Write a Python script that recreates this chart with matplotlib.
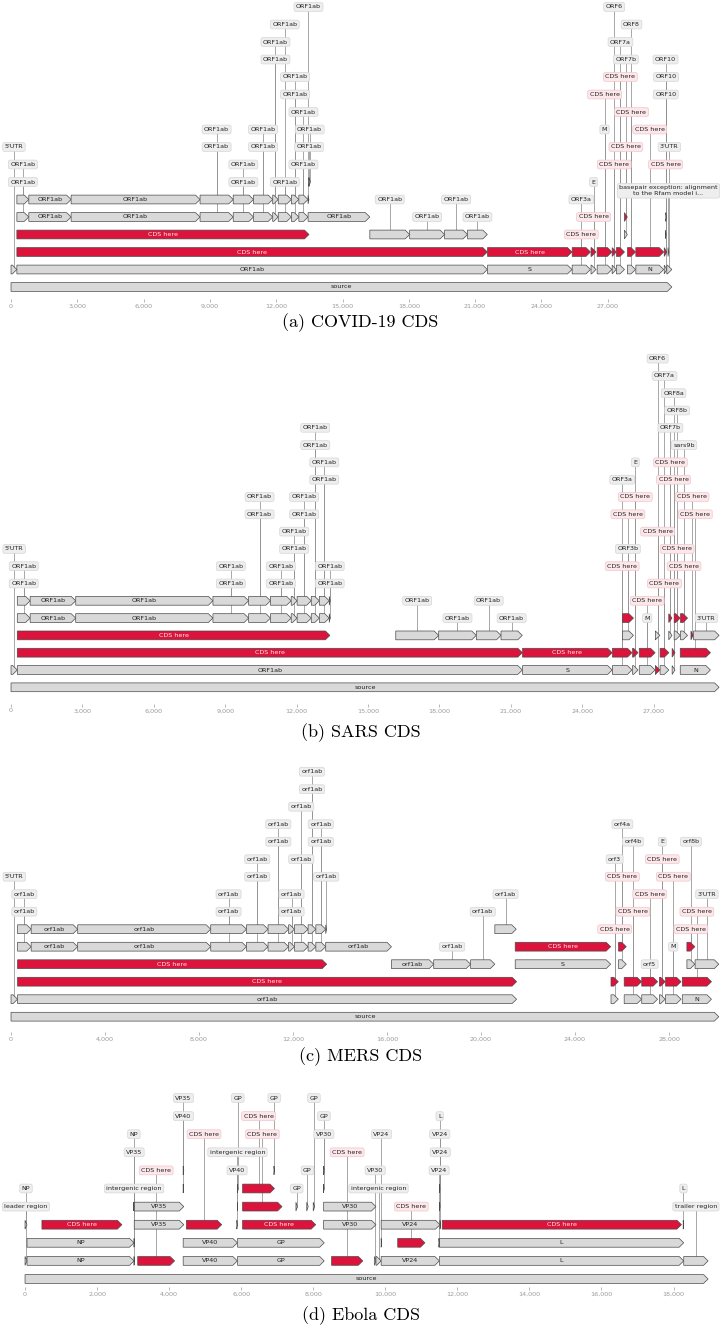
import matplotlib
matplotlib.use("Agg")
import matplotlib.pyplot as plt
from matplotlib.patches import Polygon
from matplotlib.ticker import FuncFormatter

# Each feature: (start, end, track, label, label_track); label_track None = label drawn inside

# ---------------- (a) COVID-19 ----------------
covid_source = [(1, 29903, 0, "source", None)]
covid_genes = [
    (1, 265, 1, "5'UTR", 8),
    (266, 21555, 1, "ORF1ab", None),
    (21563, 25384, 1, "S", None),
    (25393, 26220, 1, "ORF3a", 5),
    (26245, 26472, 1, "E", 6),
    (26523, 27191, 1, "M", 9),
    (27202, 27387, 1, "ORF6", 16),
    (27394, 27759, 1, "ORF7a", 14),
    (27894, 28259, 1, "ORF8", 15),
    (28274, 29533, 1, "N", None),
    (29558, 29674, 1, "ORF10", 13),
    (29675, 29903, 1, "3'UTR", 8),
    (27756, 27887, 3, "ORF7b", 13),
]
covid_cds = [
    (266, 21555, 2, "CDS here", None),
    (21563, 25384, 2, "CDS here", None),
    (25393, 26220, 2, "CDS here", 3),
    (26245, 26472, 2, "CDS here", 4),
    (26523, 27191, 2, "CDS here", 11),
    (27202, 27387, 2, "CDS here", 7),
    (27394, 27759, 2, "CDS here", 12),
    (27894, 28259, 2, "CDS here", 10),
    (28274, 29533, 2, "CDS here", 9),
    (29558, 29674, 2, "CDS here", 7),
    (266, 13483, 3, "CDS here", None),
    (27756, 27887, 4, "CDS here", 8),
]
covid_peptides = [
    (266, 805, 4, "ORF1ab", 7), (806, 2719, 4, "ORF1ab", None),
    (2720, 8554, 4, "ORF1ab", None), (8555, 10054, 4, "ORF1ab", 9),
    (10055, 10972, 4, "ORF1ab", 7), (10973, 11842, 4, "ORF1ab", 9),
    (11843, 12091, 4, "ORF1ab", 14), (12092, 12685, 4, "ORF1ab", 15),
    (12686, 13024, 4, "ORF1ab", 12), (13025, 13441, 4, "ORF1ab", 10),
    (13442, 16236, 4, "ORF1ab", None),
    (266, 805, 5, "ORF1ab", 6), (806, 2719, 5, "ORF1ab", None),
    (2720, 8554, 5, "ORF1ab", None), (8555, 10054, 5, "ORF1ab", 8),
    (10055, 10972, 5, "ORF1ab", 6), (10973, 11842, 5, "ORF1ab", 8),
    (11843, 12091, 5, "ORF1ab", 13), (12092, 12685, 5, "ORF1ab", 6),
    (12686, 13024, 5, "ORF1ab", 11), (13025, 13441, 5, "ORF1ab", 7),
    (13442, 13480, 5, "ORF1ab", 16),
    (16237, 18039, 3, "ORF1ab", 5), (18040, 19620, 3, "ORF1ab", 4),
    (19621, 20658, 3, "ORF1ab", 5), (20659, 21552, 3, "ORF1ab", 4),
]
covid_other = [
    (13476, 13503, 6, "ORF1ab", 8),
    (13488, 13542, 6, "ORF1ab", 9),
    (29609, 29644, 3, "ORF10", 11),
    (29629, 29657, 4, "ORF10", 12),
    (29728, 29768, 2, "basepair exception: alignment\nto the Rfam model i...", 5.5),
]

# ---------------- (b) SARS ----------------
sars_source = [(1, 29751, 0, "source", None)]
sars_genes = [
    (1, 264, 1, "5'UTR", 8),
    (265, 21485, 1, "ORF1ab", None),
    (21492, 25259, 1, "S", None),
    (25268, 26092, 1, "ORF3a", 12),
    (26117, 26347, 1, "E", 13),
    (26398, 27063, 1, "M", 4),
    (27273, 27641, 1, "ORF7a", 18),
    (27779, 27898, 1, "ORF8a", 17),
    (28120, 29388, 1, "N", None),
    (25689, 26153, 3, "ORF3b", 8),
    (27074, 27265, 3, "ORF6", 19),
    (27638, 27772, 3, "ORF7b", 15),
    (27864, 28118, 3, "ORF8b", 16),
    (28130, 28426, 3, "sars9b", 14),
    (28680, 29751, 3, "3'UTR", 4),
]
sars_cds = [
    (265, 21485, 2, "CDS here", None),
    (21492, 25259, 2, "CDS here", None),
    (25268, 26092, 2, "CDS here", 7),
    (26117, 26347, 2, "CDS here", 11),
    (26398, 27063, 2, "CDS here", 5),
    (27074, 27265, 1, "CDS here", 9),
    (27273, 27641, 2, "CDS here", 6),
    (27779, 27898, 2, "CDS here", 12),
    (28120, 29388, 2, "CDS here", 10),
    (265, 13398, 3, "CDS here", None),
    (25689, 26153, 4, "CDS here", 10),
    (27638, 27772, 4, "CDS here", 13),
    (27864, 28118, 4, "CDS here", 8),
    (28130, 28426, 4, "CDS here", 7),
    (28570, 28660, 3, "CDS here", 11),
]
sars_peptides = [
    (265, 804, 4, "ORF1ab", 7), (805, 2718, 4, "ORF1ab", None),
    (2719, 8484, 4, "ORF1ab", None), (8485, 9984, 4, "ORF1ab", 7),
    (9985, 10902, 4, "ORF1ab", 11), (10903, 11772, 4, "ORF1ab", 7),
    (11773, 12021, 4, "ORF1ab", 9), (12022, 12615, 4, "ORF1ab", 11),
    (12616, 12954, 4, "ORF1ab", 15), (12955, 13371, 4, "ORF1ab", 13),
    (13372, 13410, 4, "ORF1ab", 7),
    (265, 804, 5, "ORF1ab", 6), (805, 2718, 5, "ORF1ab", None),
    (2719, 8484, 5, "ORF1ab", None), (8485, 9984, 5, "ORF1ab", 6),
    (9985, 10902, 5, "ORF1ab", 10), (10903, 11772, 5, "ORF1ab", 6),
    (11773, 12021, 5, "ORF1ab", 8), (12022, 12615, 5, "ORF1ab", 10),
    (12616, 12954, 5, "ORF1ab", 14), (12955, 13371, 5, "ORF1ab", 12),
    (13372, 13410, 5, "ORF1ab", 6),
    (16167, 17969, 3, "ORF1ab", 5), (17970, 19550, 3, "ORF1ab", 4),
    (19551, 20588, 3, "ORF1ab", 5), (20589, 21482, 3, "ORF1ab", 4),
]

# ---------------- (c) MERS ----------------
mers_source = [(1, 30119, 0, "source", None)]
mers_genes = [
    (1, 278, 1, "5'UTR", 8),
    (279, 21514, 1, "orf1ab", None),
    (21456, 25517, 3, "S", None),
    (25532, 25843, 1, "orf3", 9),
    (25852, 26181, 3, "orf4a", 11),
    (26093, 26833, 1, "orf4b", 10),
    (26840, 27514, 1, "orf5", 3),
    (27590, 27838, 1, "E", 10),
    (27853, 28512, 1, "M", 4),
    (28566, 29807, 1, "N", None),
    (28762, 29100, 3, "orf8b", 10),
    (29110, 30119, 3, "3'UTR", 7),
]
mers_cds = [
    (279, 21514, 2, "CDS here", None),
    (279, 13433, 3, "CDS here", None),
    (21456, 25517, 4, "CDS here", None),
    (25532, 25843, 2, "CDS here", 5),
    (25852, 26181, 4, "CDS here", 8),
    (26093, 26833, 2, "CDS here", 6),
    (26840, 27514, 2, "CDS here", 7),
    (27590, 27838, 2, "CDS here", 9),
    (27853, 28512, 2, "CDS here", 8),
    (28566, 29807, 2, "CDS here", 6),
    (28762, 29100, 4, "CDS here", 5),
]
mers_peptides = [
    (279, 857, 5, "orf1ab", 6), (858, 2837, 5, "orf1ab", None),
    (2838, 8498, 5, "orf1ab", None), (8499, 10019, 5, "orf1ab", 6),
    (10020, 10937, 5, "orf1ab", 8), (10938, 11813, 5, "orf1ab", 10),
    (11814, 12062, 5, "orf1ab", 6), (12063, 12641, 5, "orf1ab", 9),
    (12642, 12971, 5, "orf1ab", 13), (12972, 13391, 5, "orf1ab", 10),
    (13392, 13433, 5, "orf1ab", 8),
    (279, 857, 4, "orf1ab", 7), (858, 2837, 4, "orf1ab", None),
    (2838, 8498, 4, "orf1ab", None), (8499, 10019, 4, "orf1ab", 7),
    (10020, 10937, 4, "orf1ab", 9), (10938, 11813, 4, "orf1ab", 11),
    (11814, 12062, 4, "orf1ab", 7), (12063, 12641, 4, "orf1ab", 12),
    (12642, 12971, 4, "orf1ab", 14), (12972, 13391, 4, "orf1ab", 11),
    (13392, 16190, 4, "orf1ab", None),
    (16191, 17987, 3, "orf1ab", None), (17988, 19559, 3, "orf1ab", 4),
    (19560, 20588, 3, "orf1ab", 6), (20589, 21500, 5, "orf1ab", 7),
]

# ---------------- (d) Ebola ----------------
ebola_source = [(1, 18959, 0, "source", None)]
ebola_genes = [
    (56, 3026, 1, "NP", None), (4390, 5894, 1, "VP40", None),
    (5900, 8305, 1, "GP", None), (9700, 9740, 1, "VP30", 6),
    (9741, 9884, 1, "intergenic region", 5), (9885, 11500, 1, "VP24", None),
    (11501, 18282, 1, "L", None), (18283, 18959, 1, "trailer region", 4),
    (56, 3026, 2, "NP", None), (4390, 5894, 2, "VP40", None),
    (5900, 8305, 2, "GP", None), (11501, 18282, 2, "L", None),
    (3032, 4407, 3, "VP35", None), (8288, 9740, 3, "VP30", None),
    (9885, 11518, 3, "VP24", None),
    (3032, 4407, 4, "VP35", None), (8288, 9740, 4, "VP30", None),
    (7520, 7560, 4, "GP", 5), (7820, 7860, 4, "GP", 6), (8000, 8040, 4, "GP", 10),
]
ebola_cds = [
    (470, 2689, 3, "CDS here", None),
    (3129, 4151, 1, "CDS here", 6),
    (4479, 5459, 3, "CDS here", 8),
    (6039, 8068, 3, "CDS here", None),
    (6039, 7133, 4, "CDS here", 8),
    (6039, 6923, 5, "CDS here", 9),
    (8509, 9375, 1, "CDS here", 7),
    (10345, 11100, 2, "CDS here", 4),
    (11581, 18219, 3, "CDS here", None),
]
ebola_other = [
    (1, 55, 1, "NP", 5), (1, 55, 3, "leader region", 4),
    (3027, 3031, 1, "intergenic region", 5), (3027, 3031, 2, "VP35", 7),
    (3018, 3026, 4, "NP", 8),
    (4390, 4400, 5, "VP40", 9), (4390, 4407, 6, "VP35", 10),
    (5880, 5894, 3, "VP40", 6), (5895, 5899, 4, "intergenic region", 7),
    (5900, 5912, 5, "GP", 10), (6910, 6923, 6, "GP", 10),
    (8288, 8300, 5, "VP30", 8), (8290, 8305, 6, "GP", 9),
    (9885, 9900, 2, "VP24", 8),
    (11488, 11500, 2, "VP24", 6), (11519, 11530, 3, "VP24", 7),
    (11505, 11518, 4, "VP24", 8), (11501, 11515, 5, "L", 9),
    (18268, 18282, 3, "L", 5),
]

W, H = 721, 1328
GRAY = "#d9d9d9"
RED = "#dc143c"
FS = 4.6

fig = plt.figure(figsize=(W / 100, H / 100), dpi=100)


def draw_panel(layout, gray_groups, red_groups, tick_step, tick_max, caption):
    top, bottom, x0, kpx, base, ppl, cap_y = layout
    ax = fig.add_axes([0, 1 - bottom / H, 1, (bottom - top) / H])
    bp_px = 1000.0 / kpx
    ax.set_xlim(-x0 * bp_px, (W - x0) * bp_px)
    ax.set_ylim((base - bottom) / ppl, (base - top) / ppl)
    head = 4.5 * bp_px
    hh = 4.4 / ppl

    def draw(feats, color, box_fc, box_ec, inline_color):
        for s, e, lev, name, lab in feats:
            tip = max(s, e - head)
            pts = [(s, lev - hh), (s, lev + hh), (tip, lev + hh), (e, lev), (tip, lev - hh)]
            ax.add_patch(Polygon(pts, closed=True, fc=color, ec="#4a4a4a",
                                 lw=0.5, zorder=3, clip_on=False))
            xc = (s + e) / 2
            if lab is None:
                ax.text(xc, lev, name, ha="center", va="center", fontsize=FS,
                        color=inline_color, zorder=4)
            else:
                ax.plot([xc, xc], [lev, lab], color="#8f8f8f", lw=0.55, zorder=1)
                ax.text(xc, lab, name, ha="center", va="center", fontsize=FS,
                        color="#222222", zorder=6, multialignment="center",
                        bbox=dict(boxstyle="round,pad=0.3", fc=box_fc, ec=box_ec, lw=0.5))

    for g in gray_groups:
        draw(g, GRAY, "#eeeeee", "#d6d6d6", "#222222")
    for g in red_groups:
        draw(g, RED, "#fce8ea", "#f1c6cc", "#ffe6ea")

    ax.set_xticks(list(range(0, tick_max + 1, tick_step)))
    ax.xaxis.set_major_formatter(FuncFormatter(lambda v, p: f"{int(v):,}"))
    ax.tick_params(axis="x", labelsize=4.6, colors="#9a9a9a", length=2, width=0.5, pad=1.5)
    ax.set_yticks([])
    for sp in ax.spines.values():
        sp.set_visible(False)
    ax.patch.set_alpha(0)
    fig.text(0.5, 1 - cap_y / H, caption, ha="center", va="center",
             fontsize=13, family="cmr10")


draw_panel((0, 299, 11, 22.1, 287, 17.5, 323),
           [covid_source, covid_genes, covid_peptides, covid_other], [covid_cds],
           3000, 27000, "(a) COVID-19 CDS")
draw_panel((335, 703.5, 11, 23.8, 687.3, 17.3, 733),
           [sars_source, sars_genes, sars_peptides], [sars_cds],
           3000, 27000, "(b) SARS CDS")
draw_panel((745, 1032, 11, 23.5, 1016.7, 17.5, 1057),
           [mers_source, mers_genes, mers_peptides], [mers_cds],
           4000, 28000, "(c) MERS CDS")
draw_panel((1085, 1287, 25, 36.03, 1279, 18.1, 1316),
           [ebola_source, ebola_genes, ebola_other], [ebola_cds],
           2000, 18000, "(d) Ebola CDS")

fig.savefig("out.png", dpi=100)
